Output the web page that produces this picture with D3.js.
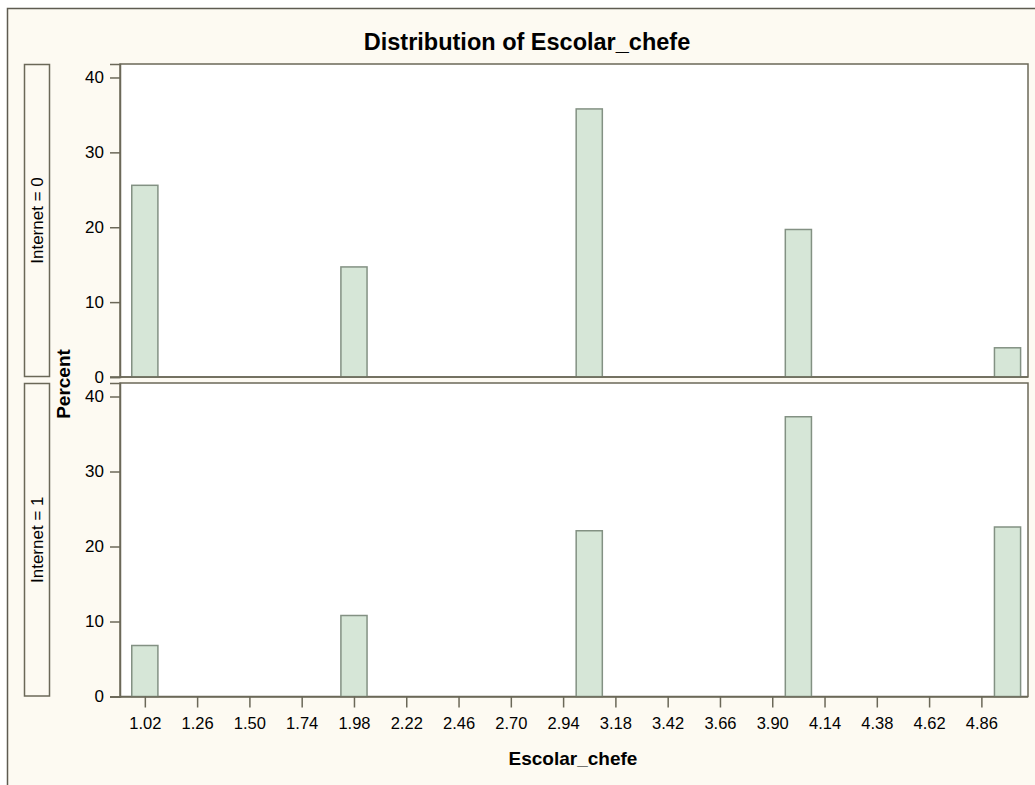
<!DOCTYPE html>
<html>
<head>
<meta charset="utf-8">
<script src="https://cdn.jsdelivr.net/npm/d3@7/dist/d3.min.js"></script>
<style>
  html, body { margin: 0; padding: 0; background: #ffffff; }
  svg { display: block; }
  text { font-family: "Liberation Sans", Arial, sans-serif; fill: #000; }
</style>
</head>
<body>
<script>
// Histogram bin midpoints (bin width 0.12) that hold observations
const binMidpoints = [1.02, 1.98, 3.06, 4.02, 4.98];
const binWidth = 0.12;
// Percent of observations per bin, one series per Internet group
const percentInternet0 = [25.6, 14.7, 35.8, 19.7, 3.9];
const percentInternet1 = [6.8, 10.8, 22.1, 37.3, 22.6];
const panelLabels = ["Internet = 0", "Internet = 1"];
const xTickValues = [1.02, 1.26, 1.50, 1.74, 1.98, 2.22, 2.46, 2.70, 2.94, 3.18, 3.42, 3.66, 3.90, 4.14, 4.38, 4.62, 4.86];
const yTickValues = [0, 10, 20, 30, 40];
const titleText = "Distribution of Escolar_chefe";
const xLabel = "Escolar_chefe";
const yLabel = "Percent";

const W = 1035, H = 785;
const svg = d3.select("body").append("svg").attr("width", W).attr("height", H);

// cream backdrop with a frame on its top and left edges
svg.append("rect").attr("x", 7).attr("y", 8).attr("width", W).attr("height", H)
  .attr("fill", "#fdfaf2");
svg.append("path").attr("d", `M7.5,${H} V8.5 H${W}`)
  .attr("fill", "none").attr("stroke", "#5e5b50").attr("stroke-width", 1.5);

const plotLeft = 120, plotRight = 1028;
const x = d3.scaleLinear().domain([0.906, 5.074]).range([plotLeft, plotRight]);

const panels = [
  { label: panelLabels[0], values: percentInternet0, top: 64, bottom: 377, xAxis: false },
  { label: panelLabels[1], values: percentInternet1, top: 383, bottom: 696.5, xAxis: true }
];

const axisColor = "#6b6858";

panels.forEach(p => {
  const y = d3.scaleLinear().domain([0, 41.8]).range([p.bottom, p.top]);
  const g = svg.append("g");

  // panel area
  g.append("rect").attr("x", plotLeft).attr("y", p.top)
    .attr("width", plotRight - plotLeft).attr("height", p.bottom - p.top)
    .attr("fill", "#ffffff").attr("stroke", axisColor).attr("stroke-width", 1.5);

  // strip label box
  g.append("rect").attr("x", 24.5).attr("y", p.top + 0.5)
    .attr("width", 25).attr("height", p.bottom - p.top - 1)
    .attr("fill", "#fdfaf2").attr("stroke", axisColor).attr("stroke-width", 1.5);
  g.append("text")
    .attr("transform", `translate(43,${(p.top + p.bottom) / 2}) rotate(-90)`)
    .attr("text-anchor", "middle").attr("font-size", 17)
    .text(p.label);

  // bars
  const bars = binMidpoints.map((m, i) => ({ m, v: p.values[i] }));
  g.selectAll("rect.bar").data(bars).join("rect").attr("class", "bar")
    .attr("x", d => x(d.m - binWidth / 2))
    .attr("width", d => x(d.m + binWidth / 2) - x(d.m - binWidth / 2))
    .attr("y", d => y(d.v))
    .attr("height", d => y(0) - y(d.v))
    .attr("fill", "#d6e6d7").attr("stroke", "#839183").attr("stroke-width", 1.5);

  // y axis
  const ya = g.append("g").attr("transform", `translate(${plotLeft},0)`)
    .call(d3.axisLeft(y).tickValues(yTickValues).tickSize(10).tickPadding(6).tickFormat(d3.format("d")));
  ya.select(".domain").attr("stroke", axisColor).attr("stroke-width", 1.5);
  ya.selectAll(".tick line").attr("stroke", axisColor).attr("stroke-width", 1.5);
  ya.selectAll(".tick text").attr("font-size", 17).attr("font-family", "Liberation Sans, Arial, sans-serif");

  // baseline (with ticks only on the bottom panel)
  if (p.xAxis) {
    const xa = g.append("g").attr("transform", `translate(0,${p.bottom})`)
      .call(d3.axisBottom(x).tickValues(xTickValues).tickSize(11).tickPadding(10).tickFormat(d3.format(".2f")));
    xa.select(".domain").attr("d", `M${plotLeft - 10},0.5H${plotRight}`)
      .attr("stroke", axisColor).attr("stroke-width", 1.5);
    xa.selectAll(".tick line").attr("stroke", axisColor).attr("stroke-width", 1.5);
    xa.selectAll(".tick text").attr("font-size", 16.5).attr("font-family", "Liberation Sans, Arial, sans-serif");
  } else {
    g.append("line").attr("x1", plotLeft - 10).attr("x2", plotRight)
      .attr("y1", p.bottom).attr("y2", p.bottom)
      .attr("stroke", axisColor).attr("stroke-width", 1.5);
  }
});

// titles
svg.append("text").attr("x", 527).attr("y", 50).attr("text-anchor", "middle")
  .attr("font-size", 23.5).attr("font-weight", "bold").text(titleText);
svg.append("text").attr("x", 573).attr("y", 765).attr("text-anchor", "middle")
  .attr("font-size", 19).attr("font-weight", "bold").text(xLabel);
svg.append("text").attr("transform", "translate(70,384) rotate(-90)")
  .attr("text-anchor", "middle").attr("font-size", 19).attr("font-weight", "bold").text(yLabel);
</script>
</body>
</html>
